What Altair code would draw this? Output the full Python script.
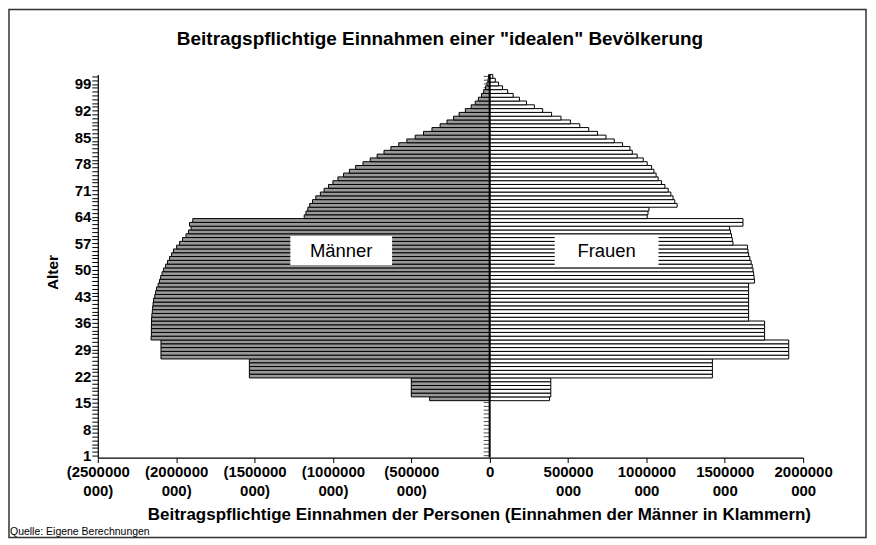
import altair as alt
import pandas as pd

# Alter 1..101
ages = list(range(1, 102))

# Beitragspflichtige Einnahmen in Mio. (Männer, Betrag; im Diagramm links)
maenner_mio = [
    0, 0, 0, 0, 0, 0, 0, 0, 0, 0, 0, 0, 0, 0, 0,          # 1-15
    383,                                                   # 16
    500, 500, 500, 500, 500,                               # 17-21
    1533, 1533, 1533, 1533, 1533,                          # 22-26
    2097, 2097, 2097, 2097, 2097,                          # 27-31
    2160, 2158, 2158, 2158, 2157, 2157, 2155, 2152, 2150, 2147,   # 32-41
    2144, 2137, 2131, 2125, 2115, 2106, 2099, 2090, 2080, 2067,   # 42-51
    2055, 2042, 2029, 2017, 1997, 1978, 1959, 1937, 1921, 1905,   # 52-61
    1915, 1894,                                                   # 62-63
    1183, 1172, 1160, 1148, 1130, 1109, 1080, 1056, 1028, 1000,   # 64-73
    968, 932, 895, 855, 808, 762, 718, 674, 630, 580,             # 74-83
    528, 475, 422, 368, 316, 272, 230, 195, 155, 118,             # 84-93
    92, 72, 52, 38, 26, 17, 10, 6,                                # 94-101
]

# Beitragspflichtige Einnahmen in Mio. (Frauen; im Diagramm rechts)
frauen_mio = [
    0, 0, 0, 0, 0, 0, 0, 0, 0, 0, 0, 0, 0, 0, 0,          # 1-15
    382,                                                   # 16
    390, 390, 390, 390, 390,                               # 17-21
    1421, 1421, 1421, 1421, 1421,                          # 22-26
    1908, 1908, 1908, 1908, 1908,                          # 27-31
    1754, 1754, 1754, 1754, 1754,                          # 32-36
    1652, 1652, 1652, 1652, 1652, 1652, 1652, 1652, 1652, 1652,   # 37-46
    1690, 1687, 1684, 1680, 1675, 1668, 1660, 1652, 1648, 1645,   # 47-56
    1552, 1548, 1543, 1537, 1531,                                 # 57-61
    1616, 1616,                                                   # 62-63
    1005, 1010, 1016,                                             # 64-66
    1196, 1181, 1170, 1156, 1139, 1118, 1096, 1075, 1062, 1048,   # 67-76
    1033, 1005, 980, 941, 910, 895, 848, 795, 742, 688,           # 77-86
    632, 575, 515, 455, 395, 338, 285, 235, 190, 150,             # 87-96
    115, 82, 57, 36, 20,                                          # 97-101
]

x_ticks = [-2500000000, -2000000000, -1500000000, -1000000000, -500000000,
           0, 500000000, 1000000000, 1500000000, 2000000000]

assert len(maenner_mio) == len(ages) and len(frauen_mio) == len(ages)

df = pd.DataFrame({
    "Alter": ages + ages,
    "Geschlecht": ["Männer"] * len(ages) + ["Frauen"] * len(ages),
    "Wert": [-v * 1e6 for v in maenner_mio] + [v * 1e6 for v in frauen_mio],
})

FONT = "Liberation Sans"
xscale = alt.Scale(domain=[-2500000000, 2000000000], nice=False, zero=False)
yscale = alt.Scale(domain=[0.5, 101.5], nice=False, zero=False)

x_label_expr = (
    "datum.value == 0 ? '0' : (datum.value < 0 ? "
    "['(' + format(-datum.value/1000, 'd'), '000)'] : "
    "[format(datum.value/1000, 'd'), '000'])"
)

x_axis = alt.Axis(
    values=x_ticks, labelExpr=x_label_expr, grid=False,
    labelFont=FONT, labelFontSize=15, labelFontWeight="bold", labelColor="black",
    labelLineHeight=19, labelPadding=2, labelOverlap=False, labelFlush=False,
    tickSize=5, tickColor="black", domainColor="black", domainWidth=1.2,
    title="Beitragspflichtige Einnahmen der Personen (Einnahmen der Männer in Klammern)",
    titleFont=FONT, titleFontSize=17, titleFontWeight="bold", titleColor="black",
    titleX=382, titleY=57, titleAlign="center", titleBaseline="middle",
)

y_axis = alt.Axis(
    values=ages, labelExpr="(datum.value - 1) % 7 == 0 ? datum.value : ''",
    grid=False, labelFont=FONT, labelFontSize=15, labelFontWeight="bold",
    labelColor="black", labelPadding=1, labelOverlap=False, labelFlush=False,
    tickSize=6, tickColor="black", domainColor="black", domainWidth=1.2,
    title="Alter", titleFont=FONT, titleFontSize=15.5, titleFontWeight="bold",
    titleColor="black", titleX=-45, titleY=198, titleAlign="center",
    titleBaseline="middle", titleAngle=270,
)

base = alt.Chart(df)

center_ticks = base.transform_filter("datum.Geschlecht == 'Frauen'").mark_tick(
    orient="horizontal", size=6, thickness=1, color="black", xOffset=-3
).encode(
    x=alt.datum(0, scale=xscale),
    y=alt.Y("Alter:Q", scale=yscale, axis=y_axis),
)

bars = base.transform_filter("datum.Wert != 0").transform_calculate(
    lo="datum.Alter - 0.5", hi="datum.Alter + 0.5"
).mark_rect(stroke="black", strokeWidth=1).encode(
    x=alt.X("Wert:Q", scale=xscale, axis=x_axis),
    x2=alt.datum(0),
    y=alt.Y("lo:Q", scale=yscale, axis=y_axis),
    y2="hi:Q",
    fill=alt.Fill("Geschlecht:N",
                  scale=alt.Scale(domain=["Männer", "Frauen"], range=["#999999", "#ffffff"]),
                  legend=None),
)

one = alt.Data(values=[{}])

center_rule = alt.Chart(one).mark_rule(color="black", strokeWidth=2).encode(
    x=alt.datum(0, scale=xscale)
)

box_m = alt.Chart(one).mark_rect(fill="white").encode(
    x=alt.value(193), x2=alt.value(295), y=alt.value(162), y2=alt.value(191))
box_f = alt.Chart(one).mark_rect(fill="white").encode(
    x=alt.value(458), x2=alt.value(562), y=alt.value(163), y2=alt.value(191))
txt_m = alt.Chart(one).mark_text(
    text="Männer", font=FONT, fontSize=18.5, color="black", align="center", baseline="middle"
).encode(x=alt.value(244), y=alt.value(177))
txt_f = alt.Chart(one).mark_text(
    text="Frauen", font=FONT, fontSize=18.5, color="black", align="center", baseline="middle"
).encode(x=alt.value(510), y=alt.value(177))

title = alt.Chart(one).mark_text(
    text='Beitragspflichtige Einnahmen einer "idealen" Bevölkerung', font=FONT,
    fontSize=19, fontWeight="bold", color="black", align="center", baseline="middle"
).encode(x=alt.value(343), y=alt.value(-36))

quelle = alt.Chart(one).mark_text(
    text="Quelle: Eigene Berechnungen", font=FONT, fontSize=10.5, color="black",
    align="left", baseline="middle"
).encode(x=alt.value(-88), y=alt.value(459))

frame = alt.Chart(one).mark_rect(filled=False, stroke="#333333", strokeWidth=1.5).encode(
    x=alt.value(-89), x2=alt.value(770), y=alt.value(-65), y2=alt.value(464))

chart = alt.layer(
    center_ticks, bars, center_rule, box_m, box_f, txt_m, txt_f, title, quelle, frame
).properties(
    width=707, height=384,
    background="white",
    autosize=alt.AutoSizeParams(type="none"),
    padding={"left": 90, "top": 66, "right": 65, "bottom": 82},
).configure_view(stroke="transparent", strokeWidth=0)

chart.save("out.html", embed_options={"renderer": "svg", "actions": False})
